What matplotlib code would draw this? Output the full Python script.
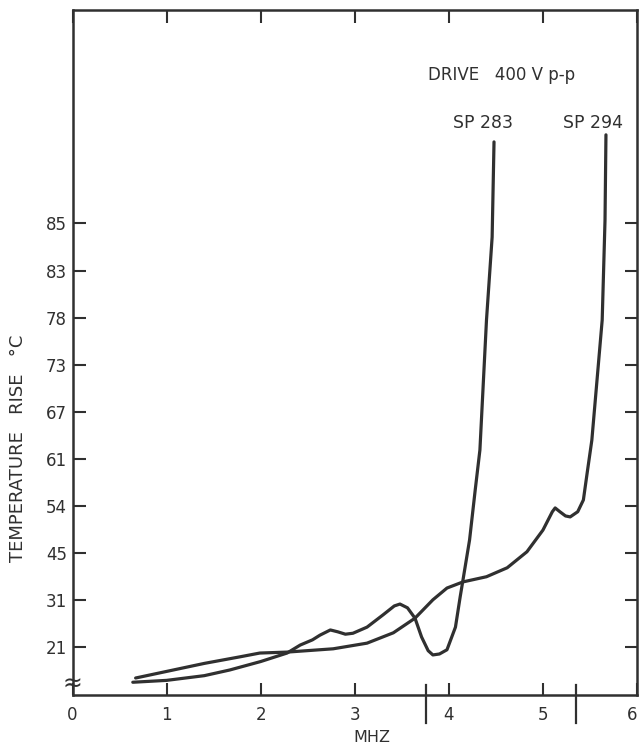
import matplotlib
matplotlib.use("Agg")
import matplotlib.pyplot as plt

# values (x in MHz, y in tick-step units: 21 -> 1 ... 85 -> 10)
sp283_x = [0.64, 1.00, 1.40, 1.67, 2.00, 2.28, 2.42, 2.55, 2.63, 2.74, 2.82, 2.90, 2.98,
           3.13, 3.30, 3.42, 3.48, 3.56, 3.64, 3.71, 3.78, 3.83, 3.90, 3.98, 4.07, 4.12,
           4.15, 4.22, 4.28, 4.33, 4.40, 4.46, 4.48]
sp283_y = [0.26, 0.30, 0.40, 0.52, 0.70, 0.88, 1.05, 1.16, 1.26, 1.37, 1.33, 1.28, 1.30,
           1.43, 1.69, 1.88, 1.92, 1.84, 1.62, 1.22, 0.93, 0.84, 0.86, 0.95, 1.43, 2.07,
           2.43, 3.28, 4.34, 5.19, 7.95, 9.71, 11.73]

sp294_x = [0.67, 1.07, 1.40, 1.78, 1.99, 2.28, 2.63, 2.77, 3.13, 3.41, 3.64, 3.83, 3.98,
           4.15, 4.40, 4.62, 4.83, 5.00, 5.10, 5.13, 5.18, 5.24, 5.29, 5.37, 5.43, 5.47,
           5.52, 5.63, 5.66, 5.67]
sp294_y = [0.35, 0.52, 0.66, 0.80, 0.88, 0.90, 0.95, 0.97, 1.09, 1.31, 1.62, 2.01, 2.26,
           2.39, 2.50, 2.69, 3.03, 3.49, 3.88, 3.96, 3.88, 3.79, 3.77, 3.88, 4.13, 4.70,
           5.40, 7.95, 10.07, 11.88]

x_ticks = [0, 1, 2, 3, 4, 5, 6]
y_tick_labels = ['21', '31', '45', '54', '61', '67', '73', '78', '83', '85']
marker_mhz = [3.76, 5.35]

ink = '#303030'
plt.rcParams['font.family'] = ['DejaVu Sans']

fig = plt.figure(figsize=(6.4, 7.47), dpi=100)
ax = fig.add_axes([72.6 / 640, 52.5 / 747, (637 - 72.6) / 640, (694.5 - 10) / 747])

ax.plot(sp283_x, sp283_y, color=ink, lw=2.3, solid_joinstyle='round', solid_capstyle='round')
ax.plot(sp294_x, sp294_y, color=ink, lw=2.3, solid_joinstyle='round', solid_capstyle='round')

ax.set_xlim(0, 6)
ax.set_ylim(0, 14.53)
ax.set_xticks(x_ticks)
ax.set_xticklabels([str(v) for v in x_ticks])
ax.set_yticks(range(1, len(y_tick_labels) + 1))
ax.set_yticklabels(y_tick_labels)
ax.tick_params(direction='in', length=9, width=1.5, color=ink, labelcolor=ink,
               labelsize=12, top=True, right=True)
ax.tick_params(axis='x', pad=8)
ax.tick_params(axis='y', pad=4)
# last frequency label sits at the figure edge
ax.get_xticklabels()[-1].set_horizontalalignment('right')
for s in ax.spines.values():
    s.set_linewidth(1.8)
    s.set_color(ink)

# long marks crossing the frequency axis
for m in marker_mhz:
    ax.plot([m, m], [0.21, -0.6], color=ink, lw=1.6, clip_on=False)

# axis break sign
ax.text(0, 0.22, '≈', ha='center', va='center', fontsize=17, color=ink, clip_on=False)

ax.text(3.78, 13.15, 'DRIVE   400 V p-p', fontsize=12, color=ink, va='center')
ax.text(4.36, 12.13, 'SP 283', fontsize=12.5, color=ink, ha='center', va='center')
ax.text(5.53, 12.13, 'SP 294', fontsize=12.5, color=ink, ha='center', va='center')

fig.text(18 / 640, 1 - 448 / 747, 'TEMPERATURE   RISE   °C', rotation=90,
         ha='center', va='center', fontsize=13, color=ink)
fig.text(372 / 640, 1 - 738 / 747, 'MHZ', ha='center', va='center', fontsize=11.5, color=ink)

fig.savefig('out.png', dpi=100)
